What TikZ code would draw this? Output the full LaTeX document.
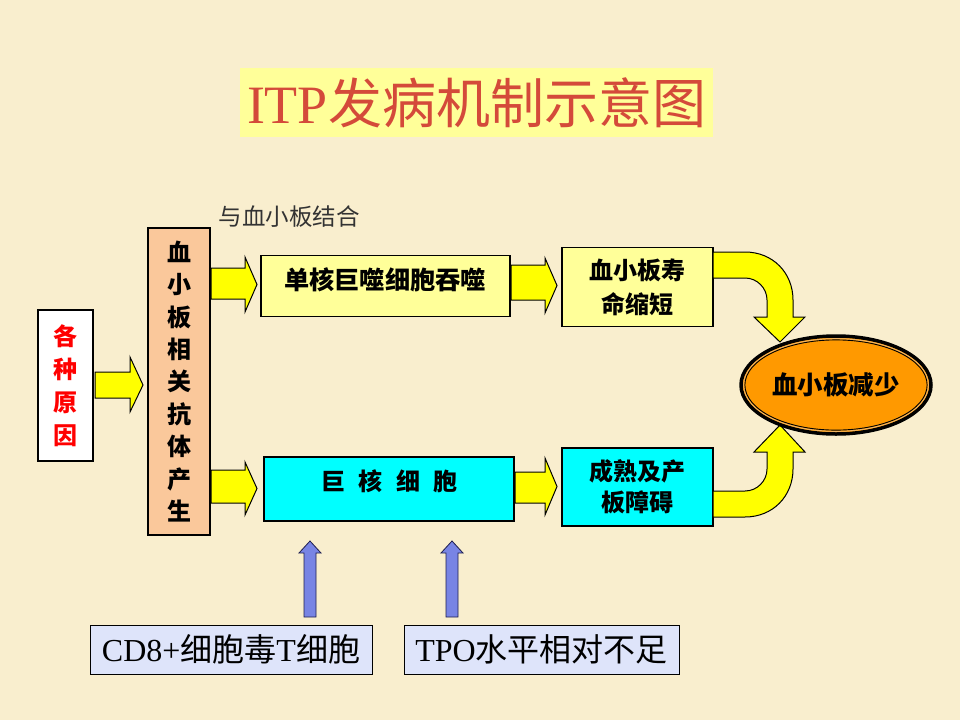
\documentclass[tikz,border=0pt]{standalone}
\usepackage{fontspec}
\setmainfont{Liberation Serif}
\newfontfamily\cjk{Noto Sans CJK SC}
\usetikzlibrary{shapes.geometric}
\definecolor{bg}{RGB}{249,238,206}
\definecolor{titlebg}{RGB}{255,255,153}
\definecolor{titlered}{RGB}{212,74,58}
\definecolor{lightyel}{RGB}{255,255,153}
\definecolor{peach}{RGB}{250,200,155}
\definecolor{cyanbox}{RGB}{0,255,255}
\definecolor{arrowyel}{RGB}{255,255,0}
\definecolor{orangeell}{RGB}{255,153,0}
\definecolor{tanline}{RGB}{240,180,100}
\definecolor{lavender}{RGB}{222,228,250}
\definecolor{bluearr}{RGB}{120,132,228}
\definecolor{navy}{RGB}{30,30,80}
\begin{document}
\begin{tikzpicture}[x=1pt,y=-1pt,
  box/.style={draw=black, line width=1.3pt, inner sep=0pt, align=center},
  bold/.style={font=\cjk\bfseries\fontsize{24}{30}\selectfont},
  yarrow/.style={fill=arrowyel, draw=black, line width=1pt, line join=miter},
  barrow/.style={fill=bluearr, draw=navy, line width=0.8pt},
  serifbox/.style={draw=black, line width=0.8pt, fill=lavender, inner sep=0pt,
    font=\fontsize{32}{34}\selectfont}]
\fill[bg] (0,0) rectangle (960,720);
\useasboundingbox (0,0) rectangle (960,720);

% title
\node[fill=titlebg, minimum width=473, minimum height=69, inner sep=0pt] (title) at (476.5,102.5)
  {\fontsize{54}{56}\selectfont\color{titlered}ITP{\cjk 发病机制示意图}};

% label
\node[font=\cjk\fontsize{23.5}{26}\selectfont, text=black!80] (bind) at (289,217) {与血小板结合};

% left box
\node[box, fill=white, minimum width=55, minimum height=151, text=red,
  font=\cjk\bfseries\fontsize{24}{33}\selectfont] (cause) at (65.5,385.5) {各\\种\\原\\因};

% column
\node[box, fill=peach, minimum width=62, minimum height=307,
  font=\cjk\bfseries\fontsize{24}{32.4}\selectfont] (ab) at (179,381.5)
  {血\\小\\板\\相\\关\\抗\\体\\产\\生};

% upper and lower middle boxes
\node[box, fill=lightyel, minimum width=249, minimum height=61] (mono) at (385.5,286) {};
\node[font=\cjk\bfseries\fontsize{25.2}{30}\selectfont] (monot) at (385,280) {单核巨噬细胞吞噬};
\node[box, fill=cyanbox, minimum width=250, minimum height=64] (mega) at (389,489) {};
\node[bold] (megat) at (389.5,481) {巨\hspace{0.55em}核\hspace{0.55em}细\hspace{0.55em}胞};

% right boxes
\node[box, fill=lightyel, minimum width=151, minimum height=79,
  font=\cjk\bfseries\fontsize{24}{34}\selectfont] (life) at (637.5,287) {血小板寿\\命缩短};
\node[box, fill=cyanbox, minimum width=151, minimum height=78,
  font=\cjk\bfseries\fontsize{24}{31}\selectfont] (mat) at (637.5,487) {成熟及产\\板障碍};

% yellow block arrows
\draw[yarrow] (95,372) -- (130,372) -- (130,357) -- (143,385) -- (130,412) -- (130,398) -- (95,398) -- cycle;
\draw[yarrow] (211,268) -- (245,268) -- (245,257) -- (257,284.5) -- (245,312) -- (245,299) -- (211,299) -- cycle;
\draw[yarrow] (211,470) -- (245,470) -- (245,462) -- (257,488.5) -- (245,515) -- (245,503) -- (211,503) -- cycle;
\draw[yarrow] (511,265) -- (545,265) -- (545,258) -- (557,285.5) -- (545,313) -- (545,300) -- (511,300) -- cycle;
\draw[yarrow] (515,472) -- (545,472) -- (545,458) -- (557,486.5) -- (545,515) -- (545,503) -- (515,503) -- cycle;

% curved arrows
\draw[yarrow] (713,252) -- (745,252) .. controls (773,252) and (793,273) .. (793,300)
  -- (793,317) -- (805,317) -- (780,342) -- (754,317) -- (767,317) -- (767,300)
  .. controls (767,288) and (757,278) .. (745,278) -- (713,278) -- cycle;
\draw[yarrow] (713,517) -- (745,517) .. controls (773,517) and (793,496) .. (793,469)
  -- (793,452) -- (805,452) -- (780,425) -- (754,452) -- (767,452) -- (767,469)
  .. controls (767,481) and (757,491) .. (745,491) -- (713,491) -- cycle;

% ellipse
\node[ellipse, fill=orangeell, draw=black, line width=3.5pt, minimum width=190, minimum height=98,
  inner sep=0pt, font=\cjk\bfseries\fontsize{25.5}{28}\selectfont] (low) at (836,385) {血小板减少};
\draw[tanline, line width=1pt] (low.center) ellipse [x radius=92.3, y radius=46.3];
\draw[black, line width=0.9pt] (low.center) ellipse [x radius=91.1, y radius=45.1];

% blue arrows
\draw[barrow] (304,617) -- (304,553) -- (299,553) -- (310,541) -- (321,553) -- (316,553) -- (316,617) -- cycle;
\draw[barrow] (446,617) -- (446,553) -- (441,553) -- (452,541) -- (463,553) -- (458,553) -- (458,617) -- cycle;

% bottom boxes
\node[serifbox, minimum width=282, minimum height=49] (cd8) at (231,649.5)
  {CD8+{\cjk 细胞毒}T{\cjk 细胞}};
\node[serifbox, minimum width=275, minimum height=49] (tpo) at (541.5,649.5)
  {TPO{\cjk 水平相对不足}};
\end{tikzpicture}
\end{document}
